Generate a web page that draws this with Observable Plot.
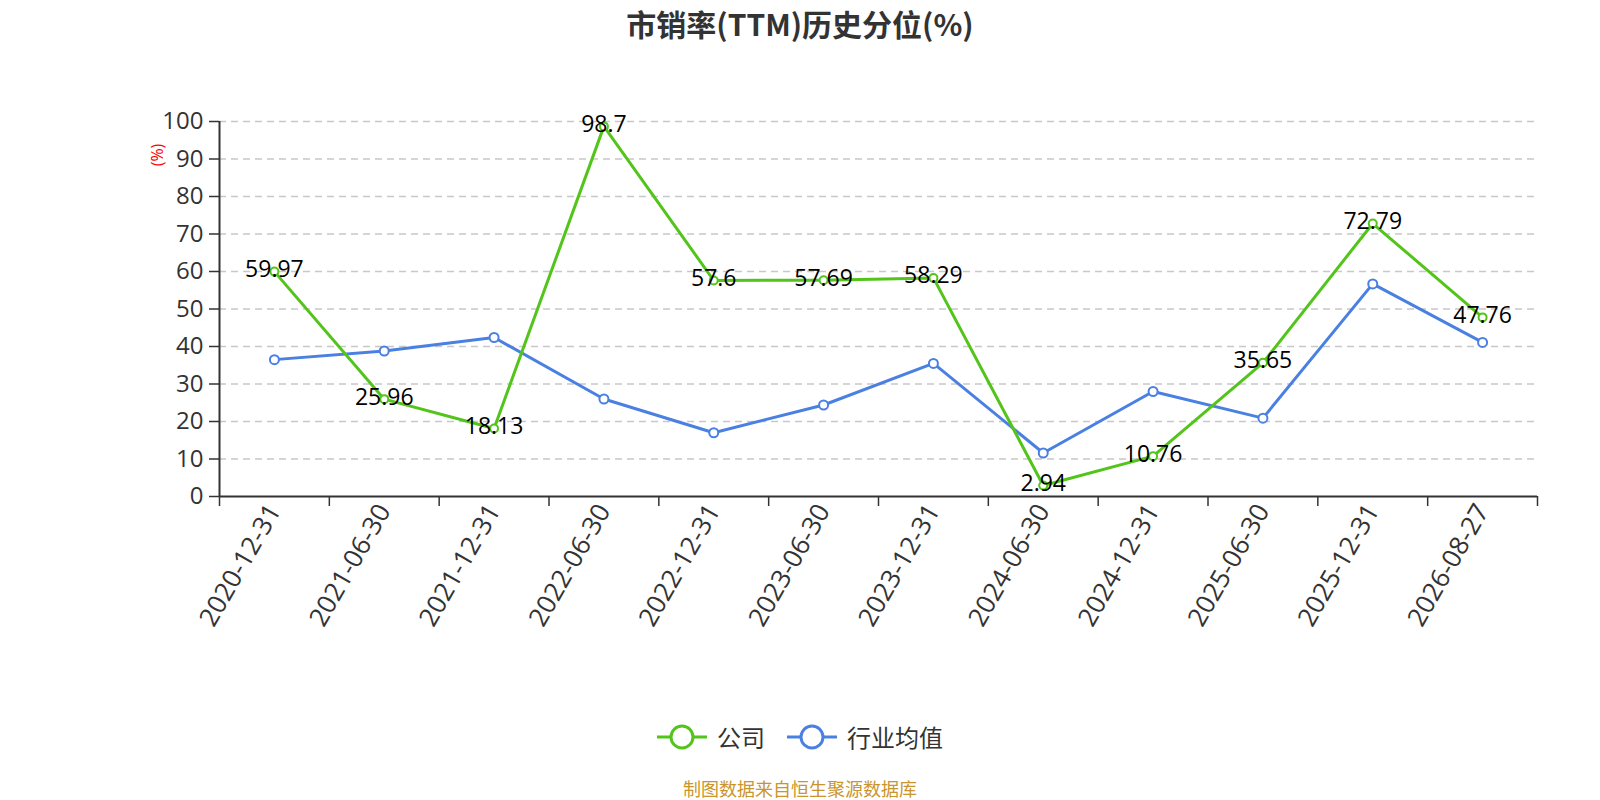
<!DOCTYPE html>
<html>
<head>
<meta charset="utf-8">
<script src="https://cdn.jsdelivr.net/npm/d3@7"></script>
<script src="https://cdn.jsdelivr.net/npm/@observablehq/plot@0.6"></script>
<style>
  html, body { margin: 0; padding: 0; background: #fff; }
  #wrap { position: relative; width: 1600px; height: 800px; overflow: hidden; background: #fff; font-family: "Open Sans", "Noto Sans CJK SC", sans-serif; }
  #chart { position: absolute; left: 0; top: 0; z-index: 0; }
  #title { position: absolute; z-index: 2; left: 0; width: 1600px; top: 3px; text-align: center; font-family: "Noto Sans CJK SC", sans-serif; font-size: 30px; font-weight: bold; color: #333; line-height: 40px; }
  #unit { position: absolute; z-index: 2; left: 157px; top: 155px; transform: translate(-50%, -50%) rotate(-90deg); color: #ff0000; font-size: 16px; white-space: nowrap; }
  #legend { position: absolute; z-index: 2; left: 0; width: 1600px; top: 722px; display: flex; justify-content: center; align-items: center; font-family: "Noto Sans CJK SC", sans-serif; font-size: 24px; color: #333; line-height: 30px; }
  #legend .item { display: flex; align-items: center; margin: 0 11px; }
  #legend svg { margin-right: 10px; }
  #caption { position: absolute; z-index: 2; left: 0; width: 1600px; top: 777px; text-align: center; font-family: "Noto Sans CJK SC", sans-serif; font-size: 18px; line-height: 22px; color: #c9952c; }
</style>
</head>
<body>
<div id="wrap">
  <div id="chart"></div>
  <div id="title"></div>
  <div id="unit"></div>
  <div id="legend"></div>
  <div id="caption"></div>
</div>
<script>
const titleText = "市销率(TTM)历史分位(%)";
const unitText = "(%)";
const captionText = "制图数据来自恒生聚源数据库";
const categories = ["2020-12-31","2021-06-30","2021-12-31","2022-06-30","2022-12-31","2023-06-30","2023-12-31","2024-06-30","2024-12-31","2025-06-30","2025-12-31","2026-08-27"];
const seriesNames = ["公司", "行业均值"];
const company = [59.97, 25.96, 18.13, 98.7, 57.6, 57.69, 58.29, 2.94, 10.76, 35.65, 72.79, 47.76];
const industry = [36.5, 38.8, 42.4, 26.0, 17.0, 24.4, 35.5, 11.6, 28.0, 20.9, 56.7, 41.1];
const yTicks = [0, 10, 20, 30, 40, 50, 60, 70, 80, 90, 100];
const colors = ["#52c41a", "#4a80e2"];

const companyData = categories.map((c, i) => ({i: i + 0.5, v: company[i]}));
const industryData = categories.map((c, i) => ({i: i + 0.5, v: industry[i]}));
const boundaries = d3.range(categories.length + 1);
const centers = categories.map((c, i) => i + 0.5);

const chart = Plot.plot({
  width: 1600,
  height: 800,
  marginLeft: 219,
  marginRight: 63,
  marginTop: 121,
  marginBottom: 304,
  style: { fontFamily: '"Open Sans", "Noto Sans CJK SC", sans-serif', background: "transparent" },
  x: { type: "linear", domain: [0, categories.length], axis: null },
  y: { domain: [0, 100], axis: null },
  marks: [
    Plot.gridY(yTicks.filter(t => t > 0), { stroke: "#c8c8c8", strokeOpacity: 1, strokeWidth: 1.5, strokeDasharray: "7,5" }),
    Plot.axisY(yTicks, { tickSize: 10, tickPadding: 6, fontSize: 24, color: "#333", stroke: "#333", strokeWidth: 1.5, label: null }),
    Plot.axisX(boundaries, { tickSize: 10, tickFormat: () => "", stroke: "#333", strokeWidth: 1.5, label: null }),
    Plot.axisX(centers, { tickSize: 0, tickPadding: 10, tickRotate: -60, fontSize: 26, color: "#333", tickFormat: d => categories[Math.floor(d)], label: null }),
    Plot.ruleX([0], { stroke: "#333", strokeWidth: 2 }),
    Plot.ruleY([0], { stroke: "#333", strokeWidth: 2 }),
    Plot.line(industryData, { x: "i", y: "v", stroke: colors[1], strokeWidth: 3 }),
    Plot.dot(industryData, { x: "i", y: "v", r: 4.5, fill: "white", stroke: colors[1], strokeWidth: 2 }),
    Plot.line(companyData, { x: "i", y: "v", stroke: colors[0], strokeWidth: 3 }),
    Plot.dot(companyData, { x: "i", y: "v", r: 4, fill: "white", stroke: colors[0], strokeWidth: 2 }),
    Plot.text(companyData, { x: "i", y: "v", text: d => String(d.v), fontSize: 23, fill: "#000", dy: -2 })
  ]
});
document.getElementById("chart").appendChild(chart);

document.getElementById("title").textContent = titleText;
document.getElementById("unit").textContent = unitText;
document.getElementById("caption").textContent = captionText;

const legend = document.getElementById("legend");
seriesNames.forEach((name, k) => {
  const item = document.createElement("div");
  item.className = "item";
  item.innerHTML = `<svg width="50" height="28"><line x1="0" x2="50" y1="14" y2="14" stroke="${colors[k]}" stroke-width="3"/><circle cx="25" cy="14" r="11" fill="white" stroke="${colors[k]}" stroke-width="3"/></svg><span>${name}</span>`;
  legend.appendChild(item);
});
</script>
</body>
</html>
